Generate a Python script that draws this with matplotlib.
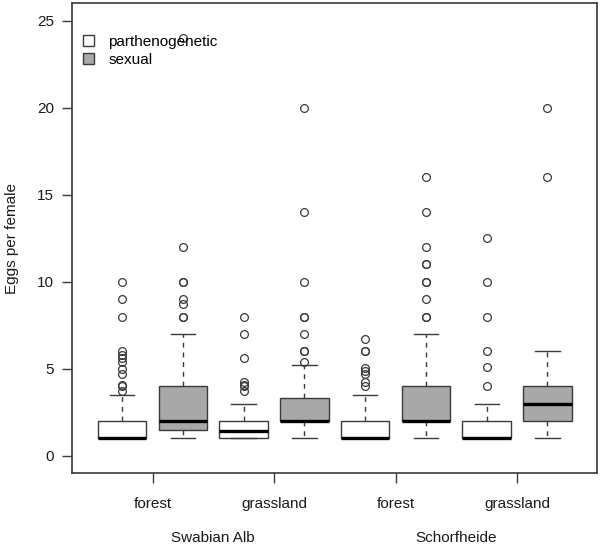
import numpy as np
import matplotlib
matplotlib.use("Agg")
import matplotlib.pyplot as plt
from matplotlib.patches import Patch

plt.rcParams['font.family'] = ['Liberation Sans', 'DejaVu Sans']

# Box summaries (parthenogenetic / sexual alternating)
site_labels = ["forest", "grassland", "forest", "grassland"]
region_labels = ["Swabian Alb", "Schorfheide"]
repro = ["parthenogenetic", "sexual"]

q1 = [1, 1.5, 1, 2, 1, 2, 1, 2]
med = [1, 2, 1.45, 2, 1, 2, 1.05, 3]
q3 = [2, 4, 2, 3.3, 2, 4, 2, 4]
whislo = [1, 1, 1, 1, 1, 1, 1, 1]
whishi = [3.5, 7, 3, 5.25, 3.5, 7, 3, 6]
fliers = [
    [10, 9, 8, 6, 5.8, 5.6, 5.4, 5, 4.7, 4.1, 4, 3.7],
    [24, 12, 10, 10, 9, 8.7, 8, 8],
    [8, 7, 5.6, 4.25, 4.1, 4, 3.7],
    [20, 14, 10, 8, 8, 7, 6, 6, 5.4],
    [6.7, 6, 6, 5.07, 4.9, 4.7, 4.25, 4.0],
    [16, 14, 12, 11, 11, 10, 10, 9, 8, 8],
    [12.5, 10, 8, 6, 5.1, 4],
    [20, 16],
]

fill_cols = ["white", "#a8a8a8"]
edge = "#3a3a3a"

stats = []
for i in range(8):
    stats.append(dict(q1=q1[i], med=med[i], q3=q3[i], whislo=whislo[i],
                      whishi=whishi[i], fliers=fliers[i]))

fig = plt.figure(figsize=(6.01, 5.49), dpi=100)
ax = fig.add_axes([0.1203, 0.1379, 0.8735, 0.856])

pos = np.arange(1, 9)
bp = ax.bxp(stats, positions=pos, widths=0.8, capwidths=0.4, patch_artist=True,
            boxprops=dict(edgecolor=edge, linewidth=1.0),
            medianprops=dict(color="black", linewidth=2.4, solid_capstyle="butt"),
            whiskerprops=dict(color=edge, linewidth=1.0, linestyle=(0, (3.5, 3.5))),
            capprops=dict(color=edge, linewidth=1.0),
            flierprops=dict(marker="o", markersize=5.6, markerfacecolor="none",
                            markeredgecolor=edge, markeredgewidth=0.9, linestyle="none"))
for i, b in enumerate(bp["boxes"]):
    b.set_facecolor(fill_cols[i % 2])

ax.set_xlim(0.18, 8.82)
ax.set_ylim(-1, 26)
ax.set_yticks([0, 5, 10, 15, 20, 25])
ax.set_xticks([1.5, 3.5, 5.5, 7.5])
ax.set_xticklabels(site_labels)
ax.tick_params(axis="both", direction="out", length=7, width=1.0, color=edge,
               labelsize=11, colors="black")
ax.tick_params(axis="x", pad=10)
ax.tick_params(axis="y", pad=6)
for tl in ax.get_xticklabels() + ax.get_yticklabels():
    tl.set_color("#1a1a1a")
ax.tick_params(axis="both", color=edge)
for s in ax.spines.values():
    s.set_color(edge)
    s.set_linewidth(1.2)

ax.set_ylabel("Eggs per female", fontsize=11, color="#1a1a1a")
ax.yaxis.set_label_coords(-0.102, 0.5)

for xc, lab in zip([2.5, 6.5], region_labels):
    ax.text(xc, -0.1377, lab, transform=ax.get_xaxis_transform(),
            ha="center", va="center", fontsize=11, color="#1a1a1a")

handles = [Patch(facecolor=fill_cols[k], edgecolor=edge, linewidth=1.0) for k in range(2)]
leg = ax.legend(handles, repro, loc="upper left", frameon=False, fontsize=11,
                handlelength=0.75, handleheight=0.75, handletextpad=0.9,
                labelspacing=0.25, borderaxespad=0.3, bbox_to_anchor=(0.0, 0.955))
leg.set_zorder(5)

fig.savefig("out.png", dpi=100)
